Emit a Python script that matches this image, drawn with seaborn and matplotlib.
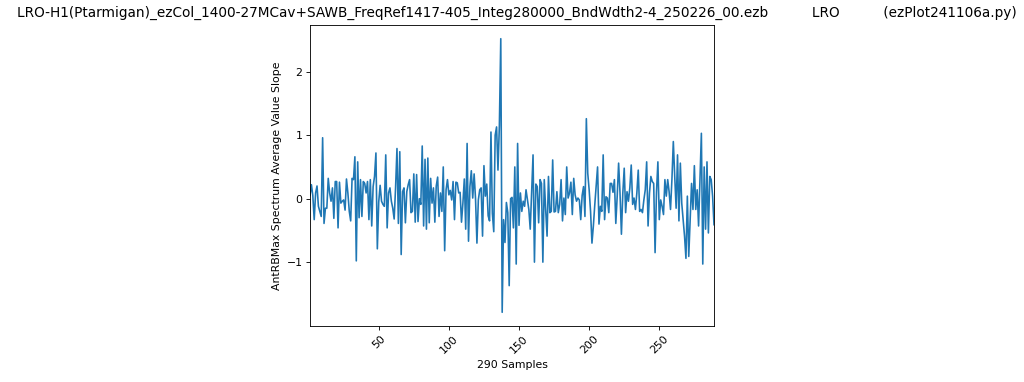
import numpy as np
import pandas as pd
import matplotlib
matplotlib.use("Agg")
import matplotlib.pyplot as plt
import seaborn as sns

title_text = ("LRO-H1(Ptarmigan)_ezCol_1400-27MCav+SAWB_FreqRef1417-405_Integ280000_BndWdth2-4_250226_00.ezb"
              "          LRO          (ezPlot241106a.py)")
x_label = "290 Samples"
y_label = "AntRBMax Spectrum Average Value Slope"

slope_part1 = [0.05, 0.22, 0.05, -0.33, 0.09, 0.2, -0.12, -0.2, -0.28, 0.96,
               -0.39, -0.15, -0.15, 0.32, 0.09, -0.04, 0.17, -0.31, 0.27, 0.27,
               -0.46, 0.26, -0.07, -0.04, -0.02, -0.18, 0.31, 0.09, -0.2, -0.35,
               0.32, 0.3, 0.66, -0.98, 0.58, -0.3, 0.3, -0.28, 0.27, 0.24,
               0.09, 0.27, -0.33, 0.3, -0.43, 0.19, 0.35]
slope_part2 = [0.72, -0.79, -0.05, 0.21, -0.04, -0.09, -0.12, 0.69, -0.46, 0.09,
               0.17, -0.04, -0.15, -0.32, 0.17, 0.79, -0.39, 0.74, -0.88, 0.11,
               0.17, -0.38, 0.11, 0.22, 0.3, -0.22, -0.2, 0.39, -0.37, 0.38,
               -0.36, 0.0, -0.09, 0.83, -0.43, 0.62, -0.48, 0.64, -0.38, 0.32,
               -0.07, 0.17, -0.37, 0.2, 0.34, -0.28, 0.09, -0.2, 0.5, -0.82]
slope_part3 = [0.14, 0.3, 0.06, 0.13, -0.02, 0.27, -0.33, 0.26, 0.25, 0.09,
               0.1, -0.37, -0.07, 0.31, -0.48, 0.87, -0.67, 0.19, 0.44, 0.01,
               0.39, 0.0, -0.7, -0.02, 0.14, 0.17, -0.59, 0.52, 0.04, 0.23,
               -0.27, -0.35, 1.05, -0.23, -0.52, 1.0, 1.13, 0.45, 1.15, 2.52,
               -1.79, -0.33, -0.69, -0.06, -0.22, -1.37, 0.0, 0.02, -0.46, 0.5]
slope_part4 = [-1.03, 0.87, -0.42, 0.09, -0.2, -0.04, -0.12, 0.14, -0.02, -0.17,
               -0.48, 0.1, 0.69, -1.0, 0.23, 0.19, -0.38, 0.3, 0.24, -1.0,
               0.3, -0.17, -0.59, 0.35, -0.22, -0.2, 0.61, -0.21, -0.2, 0.11,
               -0.22, -0.09, 0.3, -0.35, 0.01, -0.25, 0.5, 0.01, 0.09, 0.26,
               -0.25, 0.32, 0.06, -0.04, 0.01, -0.02, -0.33, 0.05, 0.19, -0.28]
slope_part5 = [1.26, 0.4, 0.14, -0.2, -0.7, -0.43, -0.1, 0.19, 0.5, -0.4,
               -0.12, -0.2, 0.69, -0.33, 0.03, 0.01, -0.22, 0.24, 0.24, 0.1,
               0.3, -0.39, 0.04, 0.56, 0.09, -0.56, 0.09, 0.48, -0.22, 0.11,
               -0.04, 0.17, 0.53, -0.09, 0.01, -0.17, 0.09, 0.45, -0.2, -0.17,
               -0.22, -0.02, 0.14]
slope_part6 = [0.58, -0.43, 0.09, 0.35, 0.27, 0.24, -0.85, 0.1, 0.58, -0.33,
               -0.02, -0.12, -0.25, 0.3, 0.04, 0.3, 0.11, -0.17, 0.3, 0.9,
               0.35, -0.15, 0.69, -0.35, 0.56, -0.07, -0.33, -0.59, -0.94, 0.04,
               -0.91, -0.33, 0.24, -0.17, 0.52, -0.17, 0.14, -0.43, 0.3, 1.03,
               -1.03, 0.5, -0.48, 0.58, -0.54, 0.35, 0.3, 0.04, -0.41]

slope_values = slope_part1 + slope_part2 + slope_part3 + slope_part4 + slope_part5 + slope_part6
sample_index = list(range(1, len(slope_values) + 1))

df = pd.DataFrame({"sample": sample_index, "slope": slope_values})

DPI = 78
fig = plt.figure(figsize=(1024 / DPI, 382 / DPI), dpi=DPI)
ax = fig.add_axes([310 / 1024, 1 - 326 / 382, 404 / 1024, 301 / 382])

sns.lineplot(data=df, x="sample", y="slope", ax=ax, color="#1f77b4", linewidth=1.5)
ax.margins(x=0)
ax.set_xlim(1, len(slope_values))
ax.set_xlabel(x_label)
ax.set_ylabel(y_label)
ax.set_xticks([50, 100, 150, 200, 250])
ax.set_yticks([-1, 0, 1, 2])
for lbl in ax.get_xticklabels():
    lbl.set_rotation(45)
    lbl.set_ha("center")

fig.text(17 / 1024, 1 - 13 / 382, title_text, fontsize=12.55, ha="left", va="center")

fig.savefig("out.png", dpi=DPI)
